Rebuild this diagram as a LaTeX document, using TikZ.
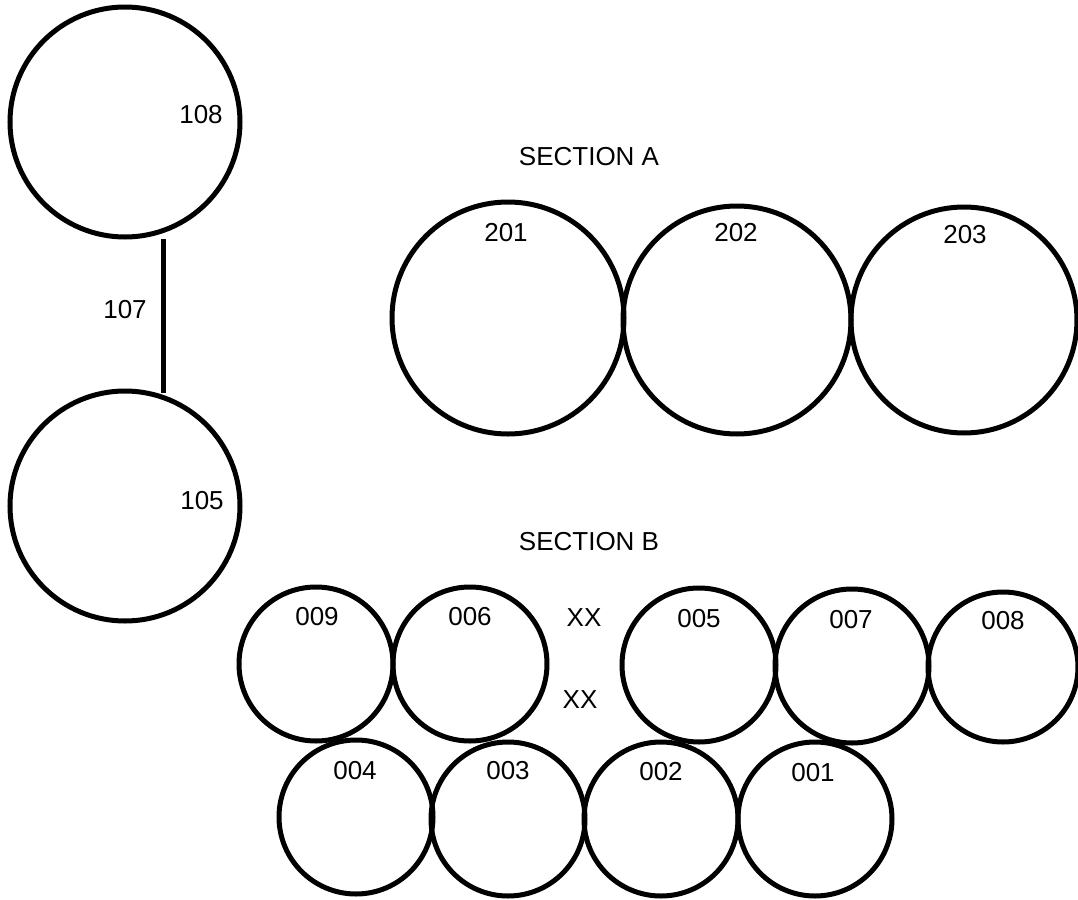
\documentclass[tikz,border=0pt]{standalone}
\usepackage{fontspec}
\setmainfont{Liberation Sans}
\usetikzlibrary{positioning}

\begin{document}
\begin{tikzpicture}[
    x=0.5pt, y=-0.5pt,
    circulo/.style={draw, circle, line width=2.5pt, inner sep=0pt},
    etiqueta/.style={inner sep=0pt, font=\fontsize{13pt}{15pt}\selectfont}
]

\useasboundingbox (0,0) rectangle (1078,900);

% Circulos de la izquierda
\node[circulo, minimum size=115pt] (c108) at (125,122) {};
\node[circulo, minimum size=115pt] (c105) at (125,506) {};
\node[etiqueta] (t108) at (201,115) {108};
\node[etiqueta] (t105) at (202,501) {105};

% Linea entre los dos circulos
\coordinate (l107a) at (163,239);
\coordinate (l107b) at (163,393);
\draw[line width=2.5pt] (l107a) -- (l107b);
\node[etiqueta] (t107) at (125,310) {107};

% Seccion A
\node[etiqueta] (secA) at (589,157) {SECTION A};
\node[circulo, minimum size=116pt] (c201) at (508,318) {};
\node[circulo, minimum size=114pt] (c202) at (737,320) {};
\node[circulo, minimum size=113pt] (c203) at (964,320) {};
\node[etiqueta] (t201) at (506,233) {201};
\node[etiqueta] (t202) at (736,233) {202};
\node[etiqueta] (t203) at (965,235) {203};

% Seccion B, fila superior
\node[etiqueta] (secB) at (589,542) {SECTION B};
\node[circulo, minimum size=77pt] (c009) at (316,664) {};
\node[circulo, minimum size=77pt] (c006) at (470,664) {};
\node[circulo, minimum size=77pt] (c005) at (699,665) {};
\node[circulo, minimum size=77pt] (c007) at (852,666) {};
\node[circulo, minimum size=75pt] (c008) at (1003,667) {};
\node[etiqueta] (t009) at (317,617) {009};
\node[etiqueta] (t006) at (470,617) {006};
\node[etiqueta] (t005) at (699,619) {005};
\node[etiqueta] (t007) at (851,620) {007};
\node[etiqueta] (t008) at (1003,621) {008};

% Huecos marcados
\node[etiqueta] (xx1) at (584,618) {XX};
\node[etiqueta] (xx2) at (580,700) {XX};

% Seccion B, fila inferior
\node[circulo, minimum size=77pt] (c004) at (356,817) {};
\node[circulo, minimum size=77pt] (c003) at (508,819) {};
\node[circulo, minimum size=77pt] (c002) at (661,819) {};
\node[circulo, minimum size=77pt] (c001) at (815,819) {};
\node[etiqueta] (t004) at (355,771) {004};
\node[etiqueta] (t003) at (508,771) {003};
\node[etiqueta] (t002) at (661,772) {002};
\node[etiqueta] (t001) at (813,773) {001};

\end{tikzpicture}
\end{document}
